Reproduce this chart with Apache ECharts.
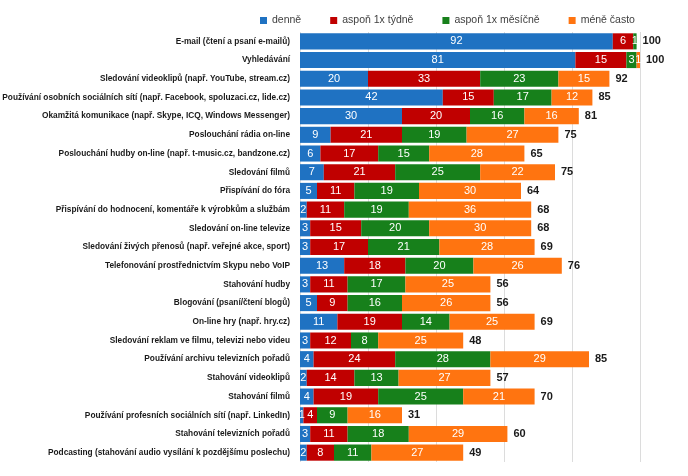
<!DOCTYPE html>
<html>
<head>
<meta charset="utf-8">
<script src="https://cdn.jsdelivr.net/npm/echarts@6/dist/echarts.min.js"></script>
<style>
  html, body { margin: 0; padding: 0; background: #fff; }
  #main { width: 688px; height: 476px; }
</style>
</head>
<body>
<div id="main"></div>
<script>
// kategorie shora dolů
var categories = [
  "E-mail (čtení a psaní e-mailů)",
  "Vyhledávání",
  "Sledování videoklipů (např. YouTube, stream.cz)",
  "Používání osobních sociálních sítí (např. Facebook, spoluzaci.cz, lide.cz)",
  "Okamžitá komunikace (např. Skype, ICQ, Windows Messenger)",
  "Poslouchání rádia on-line",
  "Poslouchání hudby on-line (např. t-music.cz, bandzone.cz)",
  "Sledování filmů",
  "Přispívání do fóra",
  "Přispívání do hodnocení, komentáře k výrobkům a službám",
  "Sledování on-line televize",
  "Sledování živých přenosů (např. veřejné akce, sport)",
  "Telefonování prostřednictvím Skypu nebo VoIP",
  "Stahování hudby",
  "Blogování (psaní/čtení blogů)",
  "On-line hry (např. hry.cz)",
  "Sledování reklam ve filmu, televizi nebo videu",
  "Používání archivu televizních pořadů",
  "Stahování videoklipů",
  "Stahování filmů",
  "Používání profesních sociálních sítí (např. LinkedIn)",
  "Stahování televizních pořadů",
  "Podcasting (stahování audio vysílání k pozdějšímu poslechu)"
];

var denne   = [92, 81, 20, 42, 30, 9, 6, 7, 5, 2, 3, 3, 13, 3, 5, 11, 3, 4, 2, 4, 1, 3, 2];
var tydne   = [6, 15, 33, 15, 20, 21, 17, 21, 11, 11, 15, 17, 18, 11, 9, 19, 12, 24, 14, 19, 4, 11, 8];
var mesicne = [1, 3, 23, 17, 16, 19, 15, 25, 19, 19, 20, 21, 20, 17, 16, 14, 8, 28, 13, 25, 9, 18, 11];
var mene    = [0, 1, 15, 12, 16, 27, 28, 22, 30, 36, 30, 28, 26, 25, 26, 25, 25, 29, 27, 21, 16, 29, 27];
var celkem  = [100, 100, 92, 85, 81, 75, 65, 75, 64, 68, 68, 69, 76, 56, 56, 69, 48, 85, 57, 70, 31, 60, 49];

// popisek součtu sedí za koncem naskládaného pruhu
var soucet = denne.map(function (v, i) { return v + tydne[i] + mesicne[i] + mene[i]; });

var myChart = echarts.init(document.getElementById("main"));

var font = "'Liberation Sans Narrow', 'Liberation Sans', sans-serif";

function stackSeries(name, data, color) {
  return {
    name: name,
    type: "bar",
    stack: "a",
    data: data,
    barCategoryGap: "14%",
    itemStyle: { color: color },
    label: {
      show: true,
      position: "inside",
      color: "#fff",
      fontFamily: font,
      fontSize: 11,
      formatter: function (p) { return p.value ? p.value : ""; }
    }
  };
}

myChart.setOption({
  animation: false,
  textStyle: { fontFamily: font },
  legend: {
    top: 10,
    left: 255,
    icon: "rect",
    itemWidth: 7,
    itemHeight: 7,
    itemGap: 29,
    textStyle: { fontSize: 10.5, color: "#404040", fontFamily: font },
    data: ["denně", "aspoň 1x týdně", "aspoň 1x měsíčně", "méně často"]
  },
  grid: { left: 300, right: -20, top: 32, bottom: 14, containLabel: false, outerBoundsMode: "none" },
  xAxis: {
    type: "value",
    min: 0,
    max: 120,
    interval: 20,
    axisLabel: { show: false },
    axisLine: { show: false },
    axisTick: { show: false },
    splitLine: { lineStyle: { color: "#dcdcdc" } }
  },
  yAxis: {
    type: "category",
    inverse: true,
    data: categories,
    axisLine: { show: false },
    axisTick: { show: false },
    axisLabel: {
      margin: 10,
      color: "#1a1a1a",
      fontSize: 8.3,
      fontWeight: "bold",
      fontFamily: font
    }
  },
  series: [
    stackSeries("denně", denne, "#1f72c2"),
    stackSeries("aspoň 1x týdně", tydne, "#c00000"),
    stackSeries("aspoň 1x měsíčně", mesicne, "#17801b"),
    stackSeries("méně často", mene, "#ff7410"),
    {
      name: "celkem",
      type: "bar",
      data: soucet,
      barGap: "-100%",
      barCategoryGap: "14%",
      itemStyle: { color: "rgba(0,0,0,0)" },
      silent: true,
      z: 1,
      label: {
        show: true,
        position: "right",
        distance: 6,
        color: "#1a1a1a",
        fontWeight: "bold",
        fontSize: 11,
        fontFamily: font,
        formatter: function (p) { return celkem[p.dataIndex]; }
      }
    }
  ]
});
</script>
</body>
</html>
